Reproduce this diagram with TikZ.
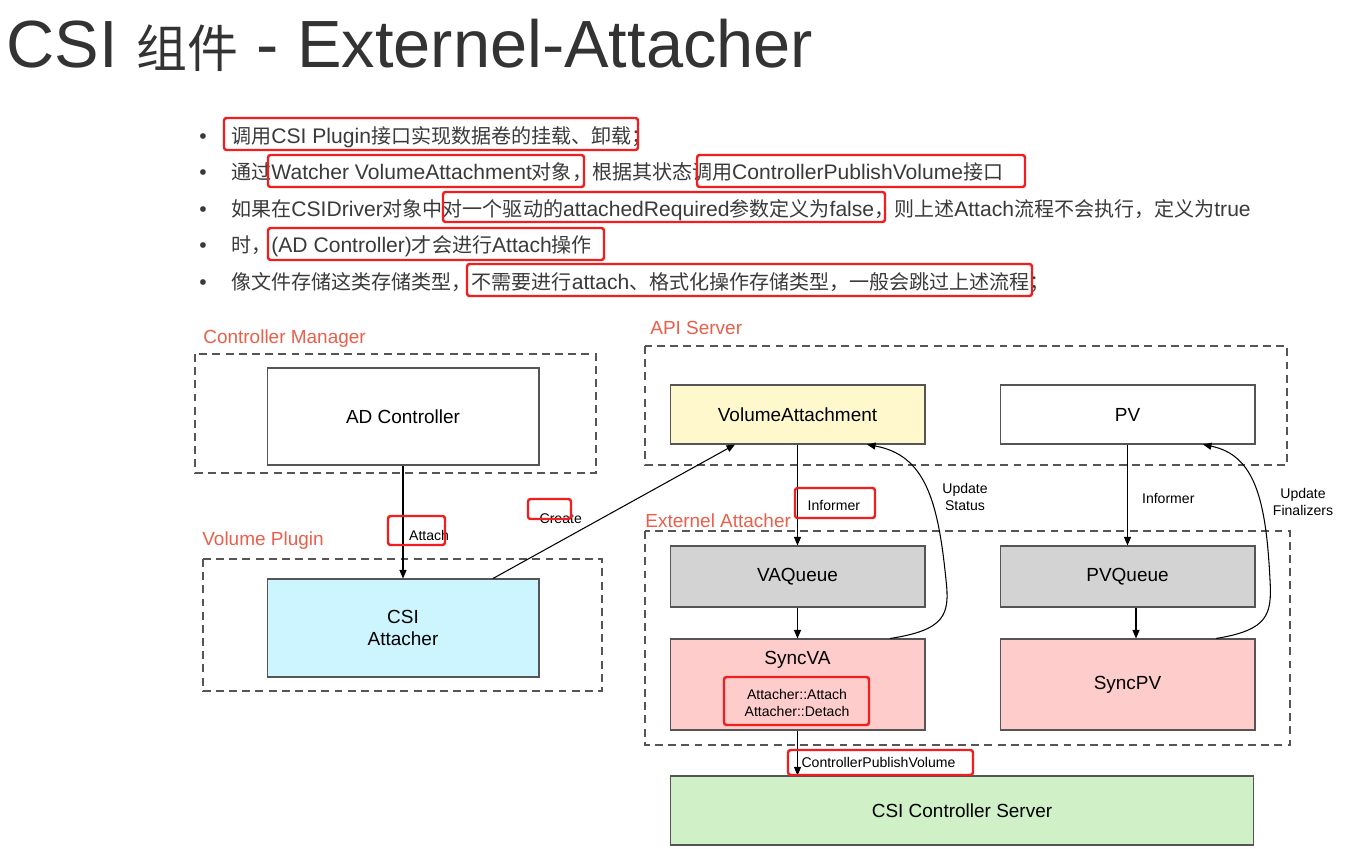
\documentclass[tikz,border=0pt]{standalone}
\usepackage{fontspec}
\setmainfont{Liberation Sans}
\newfontfamily\cjk{Noto Sans CJK SC}[Scale=0.95]
\usetikzlibrary{arrows.meta,calc}
\definecolor{ctitle}{HTML}{333333}
\definecolor{ctext}{HTML}{3A3A3A}
\definecolor{cgrp}{HTML}{E8604C}
\definecolor{cline}{HTML}{555555}
\definecolor{cmark}{HTML}{F01E1E}
\definecolor{cyellow}{HTML}{FFF8CC}
\definecolor{ccyan}{HTML}{CCF5FF}
\definecolor{cgray}{HTML}{D3D3D3}
\definecolor{cpink}{HTML}{FFCCCC}
\definecolor{cgreen}{HTML}{D0F0C8}
\newcommand\zh[1]{{\cjk #1}}
\tikzset{
  box/.style={draw=cline, line width=0.6pt, minimum width=5.1cm, minimum height=1.2cm, align=center, font=\fontsize{10.8}{13}\selectfont},
  grp/.style={draw=cline, line width=0.6pt, dash pattern=on 4.5pt off 3pt},
  grplabel/.style={anchor=base west, inner sep=0pt, text=cgrp, font=\fontsize{10.8}{13}\selectfont},
  lbl/.style={inner sep=0pt, align=center, font=\fontsize{8}{9.6}\selectfont},
  arr/.style={-{Triangle[length=1.7mm,width=1.4mm]}, line width=0.6pt},
  redmark/.style={draw=cmark, line width=1.4pt, rounded corners=1.5pt},
  bullet/.style={anchor=base west, inner sep=0pt, text=ctext, font=\fontsize{12}{15}\selectfont},
}
\begin{document}
\begin{tikzpicture}[x=0.02cm, y=-0.02cm]
  \fill[white] (0,0) rectangle (1364,848);
  \useasboundingbox (0,0) rectangle (1364,848);

  % title and bullets
  \node[anchor=base west, inner sep=0pt, text=ctitle, font=\fontsize{38}{40}\selectfont] (title) at (6,68)
    {CSI {\cjk\fontsize{30.5}{34}\selectfont 组件} - Externel-Attacher};
  \foreach \yy [count=\i] in {143,179,216,252,289}
    \node[bullet] (dot\i) at (199,\yy) {•};
  \node[bullet] (b1) at (231,143) {\zh{调用}CSI Plugin\zh{接口实现数据卷的挂载、卸载；}};
  \node[bullet] (b2) at (231,179) {\zh{通过}Watcher VolumeAttachment\zh{对象，根据其状态调用}ControllerPublishVolume\zh{接口}};
  \node[bullet] (b3) at (231,216) {\zh{如果在}CSIDriver\zh{对象中对一个驱动的}attachedRequired\zh{参数定义为}false\zh{，则上述}Attach\zh{流程不会执行，定义为}true};
  \node[bullet] (b4) at (231,252) {\zh{时，}(AD Controller)\zh{才会进行}Attach\zh{操作}};
  \node[bullet] (b5) at (231,289) {\zh{像文件存储这类存储类型，不需要进行}attach\zh{、格式化操作存储类型，一般会跳过上述流程；}};

  % groups
  \draw[grp] (195,354) rectangle (596,473);
  \draw[grp] (203,559) rectangle (602,691);
  \draw[grp] (645,346) rectangle (1287,465);
  \draw[grp] (645,531) rectangle (1290,745);
  \node[grplabel] (gcm) at (203,343) {Controller Manager};
  \node[grplabel] (gvp) at (202,545) {Volume Plugin};
  \node[grplabel] (gapi) at (650,334) {API Server};
  \node[grplabel] (gea) at (645,527) {Externel Attacher};

  % boxes
  \node[box, fill=white, minimum width=5.44cm, minimum height=1.94cm] (adc) at (403,416.5) {AD Controller};
  \node[box, fill=ccyan, minimum width=5.44cm, minimum height=1.96cm] (csia) at (403,628) {CSI\\Attacher};
  \node[box, fill=cyellow, minimum height=1.18cm] (va) at (797.5,414.5) {VolumeAttachment};
  \node[box, fill=white, minimum height=1.18cm] (pv) at (1127.5,414.5) {PV};
  \node[box, fill=cgray, minimum height=1.22cm] (vaq) at (797.5,576.5) {VAQueue};
  \node[box, fill=cgray, minimum height=1.22cm] (pvq) at (1127.5,576.5) {PVQueue};
  \node[box, fill=cpink, minimum height=1.82cm] (syncva) at (797.5,684.5) {};
  \node[inner sep=0pt, font=\fontsize{10.8}{13}\selectfont] (syncvat) at (797.5,660) {SyncVA};
  \node[lbl] (vameth) at (797,703) {Attacher::Attach\\Attacher::Detach};
  \node[box, fill=cpink, minimum height=1.82cm] (syncpv) at (1127.5,684.5) {SyncPV};
  \node[box, fill=cgreen, minimum width=11.68cm, minimum height=1.38cm] (csics) at (962,810.5) {CSI Controller Server};

  % connectors
  \draw[arr] (adc.south) -- node[pos=0.62, right=3.2pt, lbl] (lattach) {Attach} (csia.north);
  \draw[arr] ([xshift=1.8cm]csia.north) -- node[pos=0.28, above=9.5pt, lbl] (lcreate) {Create} ([xshift=-1.25cm]va.south);
  \draw[arr] (va.south) -- node[pos=0.6, right=5.5pt, lbl] (linf1) {Informer} (vaq.north);
  \draw[arr] (vaq.south) -- (syncva.north);
  \draw[arr] (pv.south) -- node[pos=0.53, right=8pt, lbl] (linf2) {Informer} (pvq.north);
  \draw[arr] ([xshift=0.17cm]pvq.south) -- ([xshift=0.17cm]syncpv.north);
  \draw[arr] (syncva.south) -- node[pos=0.7, right=2pt, lbl] (lcpv) {ControllerPublishVolume} (csics.north -| syncva.south);
  \draw[arr] ([xshift=1.85cm]syncva.north) .. controls (945,630) and (950,615) .. (946,580)
    .. controls (938,500) and (925,455) .. ([xshift=1.39cm]va.south);
  \draw[arr] ([xshift=1.77cm]syncpv.north) .. controls (1268,630) and (1272,615) .. (1270,580)
    .. controls (1266,500) and (1255,455) .. ([xshift=1.51cm]pv.south);
  \node[lbl] (lstatus) at (965,497) {Update\\Status};
  \node[lbl] (lfinal) at (1303,502) {Update\\Finalizers};

  % red marks
  \draw[redmark] (224,118) rectangle (638,150);
  \draw[redmark] (268,155) rectangle (584,187);
  \draw[redmark] (697,155) rectangle (1025,187);
  \draw[redmark] (443,192) rectangle (885,222);
  \draw[redmark] (268,228) rectangle (604,260);
  \draw[redmark] (467,264) rectangle (1032,296);
  \draw[redmark] (388,516) rectangle (445,545);
  \draw[redmark] (528,499) rectangle (571,519);
  \draw[redmark] (795,488) rectangle (875,518);
  \draw[redmark] (724,677) rectangle (869,725);
  \draw[redmark] (788,750) rectangle (973,775);
\end{tikzpicture}
\end{document}
